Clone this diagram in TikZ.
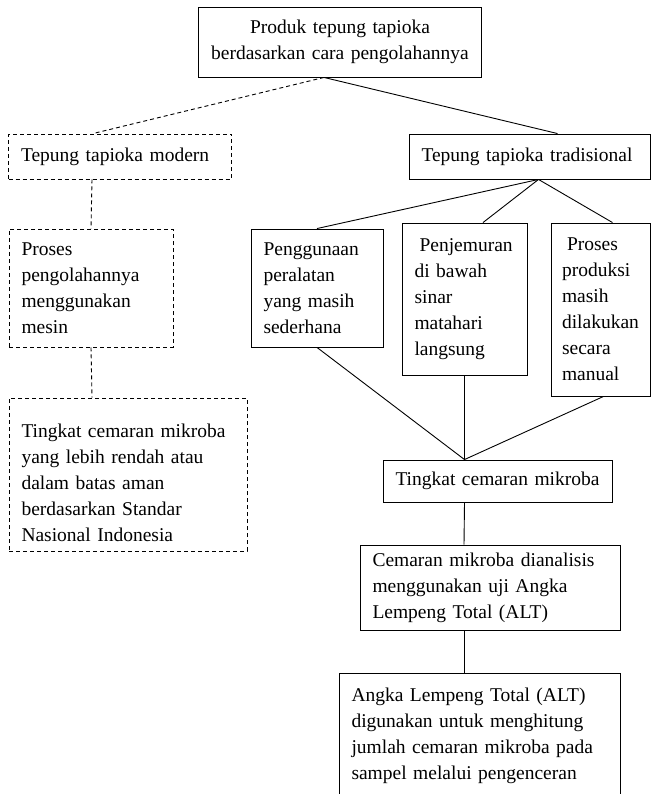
\documentclass[tikz,border=0pt]{standalone}
\usepackage{fontspec}
\setmainfont{Liberation Serif}
\usetikzlibrary{calc}
\usetikzlibrary{positioning}

\begin{document}
\begin{tikzpicture}[
		x=1pt, y=-1pt,
		b/.style  = {rectangle, draw, line width=0.9pt, inner xsep=12.5pt, inner ysep=0pt, align=left, font=\fontsize{19.5}{26}\selectfont},
		d/.style  = {b, dash pattern=on 4pt off 3pt},
		l/.style  = {line width=0.9pt},
		dl/.style = {l, dash pattern=on 4pt off 3pt}
		]
		\useasboundingbox (0,0) rectangle (651,794);
		\clip (0,0) rectangle (651,794);
		
		% === === Nodes === ===
		\node[b, text width=258pt, minimum height=70pt, align=center]	(prod)	at	(340,42)	{Produk tepung tapioka\\berdasarkan cara pengolahannya};
		\node[d, text width=198pt, minimum height=45pt]	(modern)	at	(120,156.5)	{Tepung tapioka modern};
		\node[b, text width=216pt, minimum height=45pt]	(trad)	at	(529.5,156.5)	{Tepung tapioka tradisional};
		\node[d, text width=139pt, minimum height=118pt]	(mesin)	at	(91,288)	{Proses\\pengolahannya\\menggunakan\\mesin};
		\node[b, text width=107pt, minimum height=118pt]	(alat)	at	(317,288)	{Penggunaan\\peralatan\\yang masih\\sederhana};
		\node[b, text width=100pt, minimum height=152pt]	(jemur)	at	(464.5,299)	{\hspace*{5pt}Penjemuran\\di bawah\\sinar\\matahari\\langsung};
		\node[b, text width=77pt, inner xsep=11pt, minimum height=173pt]	(manual)	at	(600.5,309.5)	{\hspace*{5pt}Proses\\produksi\\masih\\dilakukan\\secara\\manual};
		\node[d, text width=213pt, minimum height=153pt]	(hasil)	at	(128,474.5)	{\rule{0pt}{31pt}Tingkat cemaran mikroba\\yang lebih rendah atau\\dalam batas aman\\berdasarkan Standar\\Nasional Indonesia};
		\node[b, text width=204pt, minimum height=42pt, align=center]	(tingkat)	at	(497.5,481)	{Tingkat cemaran mikroba};
		\node[b, text width=235pt, minimum height=85pt]	(cemaran)	at	(490,587.5)	{Cemaran mikroba dianalisis\\menggunakan uji Angka\\Lempeng Total (ALT)};
		\node[b, text width=256pt, minimum height=125pt]	(angka)	at	(479.5,735.5)	{Angka Lempeng Total (ALT)\\digunakan untuk menghitung\\jumlah cemaran mikroba pada\\sampel melalui pengenceran};
		
		
		% === === Lines === ===
		\draw[dl]	($(prod.south)+(-16,0)$)	--	($(modern.north)+(-27,0)$);
		\draw[l]	($(prod.south)+(-16,0)$)	--	($(trad.north)+(28,0)$);
		\draw[l]	($(trad.south)+(9,0)$)	--	(alat.north);
		\draw[l]	($(trad.south)+(9,0)$)	--	($(jemur.north)+(18.5,0)$);
		\draw[l]	($(trad.south)+(9,0)$)	--	($(manual.north)+(12,0)$);
		\draw[dl]	($(modern.south)+(-28,0)$)	--	(mesin.north);
		\draw[dl]	(mesin.south)	--	($(hasil.north)+(-36,0)$);
		\draw[l]	(alat.south)	--	($(tingkat.north)+(-33,0)$);
		\draw[l]	(jemur.south)	--	($(tingkat.north)+(-33,0)$);
		\draw[l]	($(manual.south)+(3,0)$)	--	($(tingkat.north)+(-33,0)$);
		\draw[l]	($(tingkat.south)+(-33,0)$)	--	($(cemaran.north)+(-26,0)$);
		\draw[l]	($(cemaran.south)+(-26,0)$)	--	($(angka.north)+(-15.5,0)$);
		
		
	\end{tikzpicture}
\end{document}
